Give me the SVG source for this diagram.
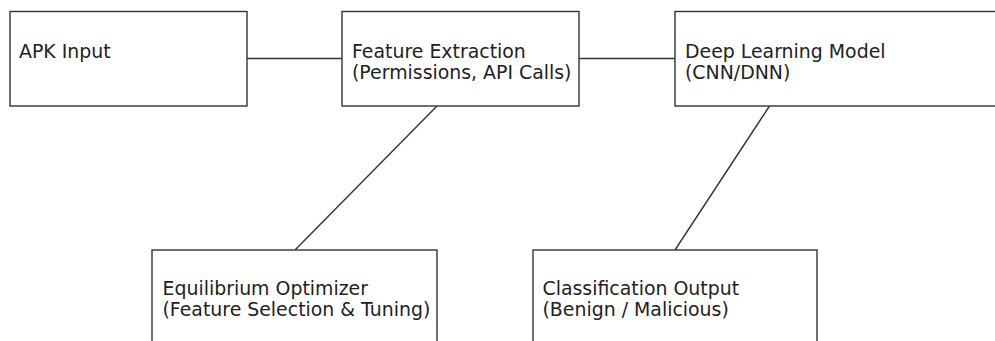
<svg xmlns="http://www.w3.org/2000/svg" width="995" height="341" viewBox="0 0 995 341">
<style>
.box{fill:#fff;stroke:#333;stroke-width:1.4}
.lbl{font-family:"DejaVu Sans",sans-serif;font-size:18.9px;fill:#222}
.edge{stroke:#333;stroke-width:1.4;fill:none}
</style>
<rect width="995" height="341" fill="#fff"/>
<g id="connectors">
<line class="edge" x1="247" y1="58.5" x2="342" y2="58.5"/>
<line class="edge" x1="579" y1="58.5" x2="675" y2="58.5"/>
<line class="edge" x1="437" y1="106" x2="295" y2="250"/>
<line class="edge" x1="769.5" y1="106" x2="675" y2="250"/>
</g>
<g id="apk">
<rect class="box" x="10" y="11.5" width="237" height="94.5"/>
<text class="lbl" x="19" y="58">APK Input</text>
</g>
<g id="feature">
<rect class="box" x="342" y="11.5" width="237" height="94.5"/>
<text class="lbl" x="352" y="58">Feature Extraction</text>
<text class="lbl" x="352" y="78.5">(Permissions, API Calls)</text>
</g>
<g id="model">
<rect class="box" x="675" y="11.5" width="330" height="94.5"/>
<text class="lbl" x="685" y="58">Deep Learning Model</text>
<text class="lbl" x="685" y="78.5">(CNN/DNN)</text>
</g>
<g id="optimizer">
<rect class="box" x="152" y="250" width="285" height="100"/>
<text class="lbl" x="162.5" y="295">Equilibrium Optimizer</text>
<text class="lbl" x="162.5" y="315.5">(Feature Selection &amp; Tuning)</text>
</g>
<g id="output">
<rect class="box" x="533" y="250" width="284" height="100"/>
<text class="lbl" x="542.5" y="295">Classification Output</text>
<text class="lbl" x="542.5" y="315.5">(Benign / Malicious)</text>
</g>
</svg>
